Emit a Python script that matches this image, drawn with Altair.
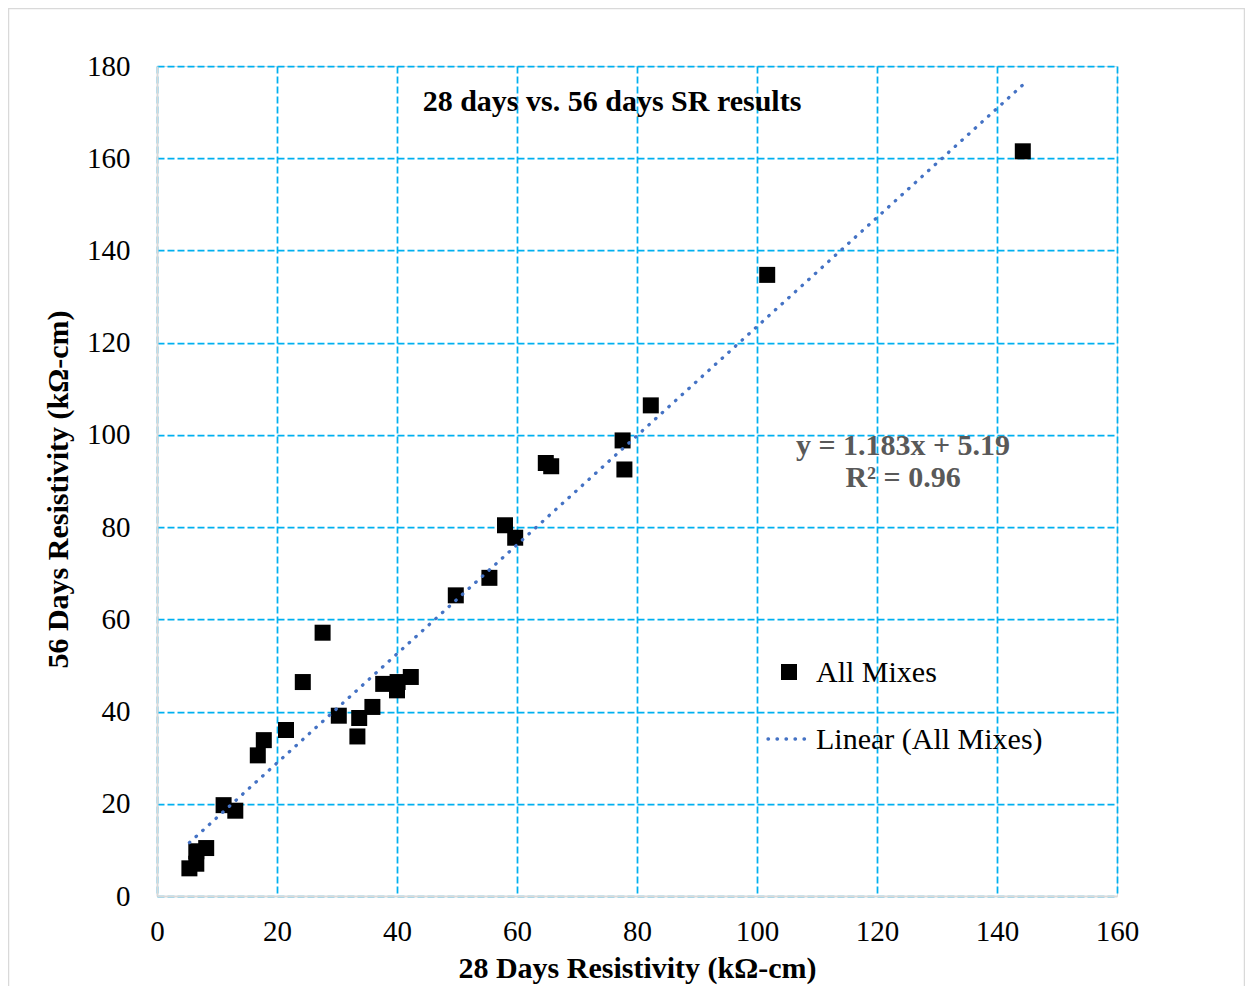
import altair as alt
import pandas as pd

# ---- data ----
days28 = [5.4, 6.55, 6.55, 8.2, 11.1, 13.05, 16.8, 17.8, 21.5, 24.3, 27.6, 30.3,
          33.4, 33.7, 35.9, 37.7, 40.0, 40.1, 42.3, 49.8, 55.4, 58.0, 59.7, 64.8,
          65.7, 77.6, 77.9, 82.3, 101.7, 144.3]
days56 = [6.0, 7.0, 9.7, 10.4, 19.7, 18.5, 30.5, 33.8, 36.0, 46.4, 57.1, 39.1,
          34.6, 38.6, 41.0, 46.0, 44.6, 46.4, 47.5, 65.2, 69.0, 80.4, 77.7, 93.9,
          93.2, 98.8, 92.5, 106.4, 134.7, 161.5]
slope = 1.183
intercept = 5.19
x_ticks = [0, 20, 40, 60, 80, 100, 120, 140, 160]
y_ticks = [0, 20, 40, 60, 80, 100, 120, 140, 160, 180]

title_text = "28 days vs. 56 days SR results"
eq_lines = ["y = 1.183x + 5.19", "R² = 0.96"]
legend_labels = ["All Mixes", "Linear (All Mixes)"]

FONT = "Liberation Serif"
W, H = 960, 830
PAD = {"left": 149, "top": 58, "right": 128, "bottom": 90}

df = pd.DataFrame({"x": days28, "y": days56})
xmin, xmax = min(days28), max(days28)
df_trend = pd.DataFrame({"x": [xmin, xmax], "y": [slope * xmin + intercept, slope * xmax + intercept]})
one = pd.DataFrame({"k": [0]})

xscale = alt.Scale(domain=[0, 160], nice=False, zero=False)
yscale = alt.Scale(domain=[0, 180], nice=False, zero=False)

grid_kw = dict(grid=True, gridColor="#00B0F0", gridDash=[7, 3], gridWidth=1.75,
               domainColor="#D9D9D9", domainWidth=2, ticks=False,
               labelFont=FONT, labelFontSize=29, labelColor="black",
               titleFont=FONT, titleFontSize=30, titleFontWeight="bold", titleColor="black",
               labelFlush=False, labelOverlap=False)

xaxis = alt.Axis(values=x_ticks, title="28 Days Resistivity (kΩ-cm)",
                 labelPadding=21, titlePadding=7, **grid_kw)
yaxis = alt.Axis(values=y_ticks, title="56 Days Resistivity (kΩ-cm)",
                 labelPadding=27, titleX=-84, titleY=423, **grid_kw)

points = alt.Chart(df).mark_point(shape="square", filled=True, size=256, color="black", opacity=1).encode(
    x=alt.X("x:Q", scale=xscale, axis=xaxis),
    y=alt.Y("y:Q", scale=yscale, axis=yaxis),
)

trend = alt.Chart(df_trend).mark_line(color="#4472C4", strokeWidth=3.3, strokeDash=[0.5, 8.5],
                                      strokeCap="round").encode(
    x=alt.X("x:Q", scale=xscale),
    y=alt.Y("y:Q", scale=yscale),
)

title = alt.Chart(one).mark_text(text=title_text, font=FONT, fontSize=30, fontWeight="bold",
                                 color="black", align="center", baseline="middle").encode(
    x=alt.value(455), y=alt.value(36))

eq1 = alt.Chart(one).mark_text(text=eq_lines[0], font=FONT, fontSize=30, fontWeight="bold",
                               color="#595959", align="center", baseline="middle").encode(
    x=alt.value(746), y=alt.value(380))
eq2 = alt.Chart(one).mark_text(text=eq_lines[1], font=FONT, fontSize=30, fontWeight="bold",
                               color="#595959", align="center", baseline="middle").encode(
    x=alt.value(746), y=alt.value(412))

leg_sq = alt.Chart(one).mark_point(shape="square", filled=True, size=256, color="black", opacity=1).encode(
    x=alt.value(632), y=alt.value(606))
leg_t1 = alt.Chart(one).mark_text(text=legend_labels[0], font=FONT, fontSize=30, color="black",
                                  align="left", baseline="middle").encode(
    x=alt.value(659), y=alt.value(607))
leg_line = alt.Chart(one).mark_rule(color="#4472C4", strokeWidth=3.3, strokeDash=[0.5, 8.5],
                                    strokeCap="round").encode(
    x=alt.value(611), x2=alt.value(655), y=alt.value(673))
leg_t2 = alt.Chart(one).mark_text(text=legend_labels[1], font=FONT, fontSize=30, color="black",
                                  align="left", baseline="middle").encode(
    x=alt.value(659), y=alt.value(674))

border = alt.Chart(one).mark_rect(fill=None, stroke="#D9D9D9", strokeWidth=1.5, clip=False).encode(
    x=alt.value(-148.5), x2=alt.value(1087.5), y=alt.value(-57.5), y2=alt.value(960))

chart = alt.layer(border, points, trend, title, eq1, eq2, leg_sq, leg_t1, leg_line, leg_t2).properties(
    width=W, height=H,
    autosize=alt.AutoSizeParams(type="none"),
    padding=PAD,
).configure_view(stroke=None).configure(background="white")

chart.save("out.html", embed_options={"renderer": "svg", "actions": False})
